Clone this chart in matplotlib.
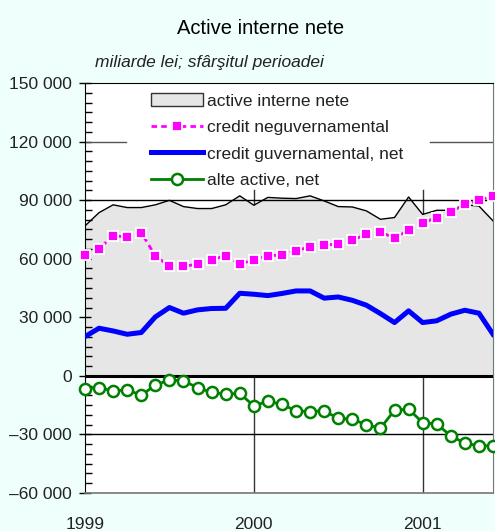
"""Active interne nete chart."""

import matplotlib

matplotlib.use("Agg")
import matplotlib.pyplot as plt
import numpy as np
from matplotlib.patches import Patch
from matplotlib.ticker import MultipleLocator

plt.rcParams["font.family"] = ["Liberation Sans", "DejaVu Sans"]

BG = "#EEFFFC"

# end of period values, Dec 1998 .. May 2001 (billion lei)
active_interne = [76800, 83600, 87600, 86200, 86200, 87600, 89900, 86700, 85700, 85700,
                  87600, 92200, 87400, 91400, 91000, 90800, 92200, 89600, 86700, 86500,
                  84500, 80200, 81100, 91600, 82700, 84800, 84800, 87600, 87000, 79400]
credit_neguv = [62000, 65200, 71700, 71200, 73400, 61400, 56300, 56100, 57200, 59400,
                61600, 57300, 59400, 61400, 62000, 64000, 66200, 67100, 67400, 69500,
                72500, 73700, 70500, 74600, 78300, 81100, 84000, 87900, 89900, 92200]
credit_guv = [20100, 24400, 23000, 21300, 22200, 30200, 35000, 32100, 33800, 34500,
              34600, 42300, 41800, 41100, 42200, 43500, 43500, 39800, 40400, 38700,
              36200, 31900, 27300, 33300, 27300, 28200, 31600, 33600, 32100, 21300]
alte_active = [-6500, -6000, -7700, -7200, -9900, -4800, -2000, -2600, -6000, -8500,
               -9400, -9000, -15400, -13000, -14600, -17900, -18300, -17900, -21800, -22200,
               -25100, -26800, -17600, -17100, -23900, -24700, -30700, -34500, -35800, -35800]

year_pos = [0, 12, 24]
year_labels = ["1999", "2000", "2001"]
y_ticks = [-60000, -30000, 0, 30000, 60000, 90000, 120000, 150000]
y_labels = ["\u201360 000", "\u201330 000", "0", "30 000", "60 000", "90 000", "120 000", "150 000"]

x = np.arange(len(active_interne))

fig = plt.figure(figsize=(4.95, 5.31), dpi=100, facecolor=BG)
ax = fig.add_axes([85 / 495, 38 / 531, 408 / 495, 410 / 531])
ax.set_facecolor("white")

# grid lines behind the area
for p in year_pos[1:]:
    ax.axvline(p, ymax=0.74, color="#333333", lw=1, zorder=0)

ax.fill_between(x, 0, active_interne, color="#E6E6E6", zorder=1, lw=0,
                label="active interne nete")
ax.plot(x, active_interne, color="black", lw=1, zorder=2)

ax.axhline(90000, color="black", lw=1, zorder=2.5)
ax.axhline(-30000, color="black", lw=1, zorder=2.5)
ax.axhline(120000, xmax=0.1, color="#555555", lw=1, zorder=2.5)
ax.axhline(120000, xmin=0.845, color="#555555", lw=1, zorder=2.5)
ax.axhline(0, color="black", lw=2.2, zorder=2.6)

ax.plot(x, credit_neguv, color="#FF00FF", lw=2, ls=(0, (2, 1.5)), marker="s", ms=7,
        mfc="#FF00FF", mec="white", mew=1.3, zorder=4, clip_on=False,
        label="credit neguvernamental")
ax.plot(x, credit_guv, color="#0000FF", lw=3.6, zorder=3, solid_joinstyle="round",
        label="credit guvernamental, net")
ax.plot(x, alte_active, color="#008000", lw=2, marker="o", ms=8, mfc="white",
        mec="#008000", mew=1.8, zorder=4, clip_on=False, label="alte active, net")

ax.set_xlim(0, 29)
ax.set_ylim(-60000, 150000)
ax.set_xticks(year_pos)
ax.set_xticklabels(year_labels, fontsize=12.5, color="#222222")
ax.tick_params(axis="x", length=0, pad=17)
ax.set_yticks(y_ticks)
ax.set_yticklabels(y_labels, fontsize=12.5, color="#222222")
ax.yaxis.set_minor_locator(MultipleLocator(5000))
ax.tick_params(axis="y", which="major", direction="inout", length=9, width=1, pad=5)
ax.tick_params(axis="y", which="minor", direction="in", length=5, width=1)

ax.spines["left"].set_color("black")
ax.spines["top"].set_color("black")
ax.spines["bottom"].set_color("#777777")
ax.spines["right"].set_color("#777777")
ax.spines["bottom"].set_linewidth(1.2)

# legend: the area entry gets a gray box
handles, labels = ax.get_legend_handles_labels()
area_h = Patch(facecolor="#E6E6E6", edgecolor="#333333", lw=1)
handles = [area_h] + handles[1:]
leg = fig.legend(handles, labels, loc="upper left", bbox_to_anchor=(151 / 495, 1 - 93 / 531),
                 frameon=False, fontsize=12.5, handlelength=3.0, handletextpad=0.2,
                 labelspacing=0.62, borderpad=0, borderaxespad=0, handleheight=0.8)
for t in leg.get_texts():
    t.set_color("#222222")

fig.text(261 / 495, 1 - 28 / 531, "Active interne nete", ha="center", va="center",
         fontsize=14.5, color="black")
fig.text(95 / 495, 1 - 63 / 531, "miliarde lei; sf\u00e2r\u015fitul perioadei", ha="left",
         va="center", fontsize=12.5, style="italic", color="#222222")

fig.savefig("out.png", dpi=100, facecolor=BG)
